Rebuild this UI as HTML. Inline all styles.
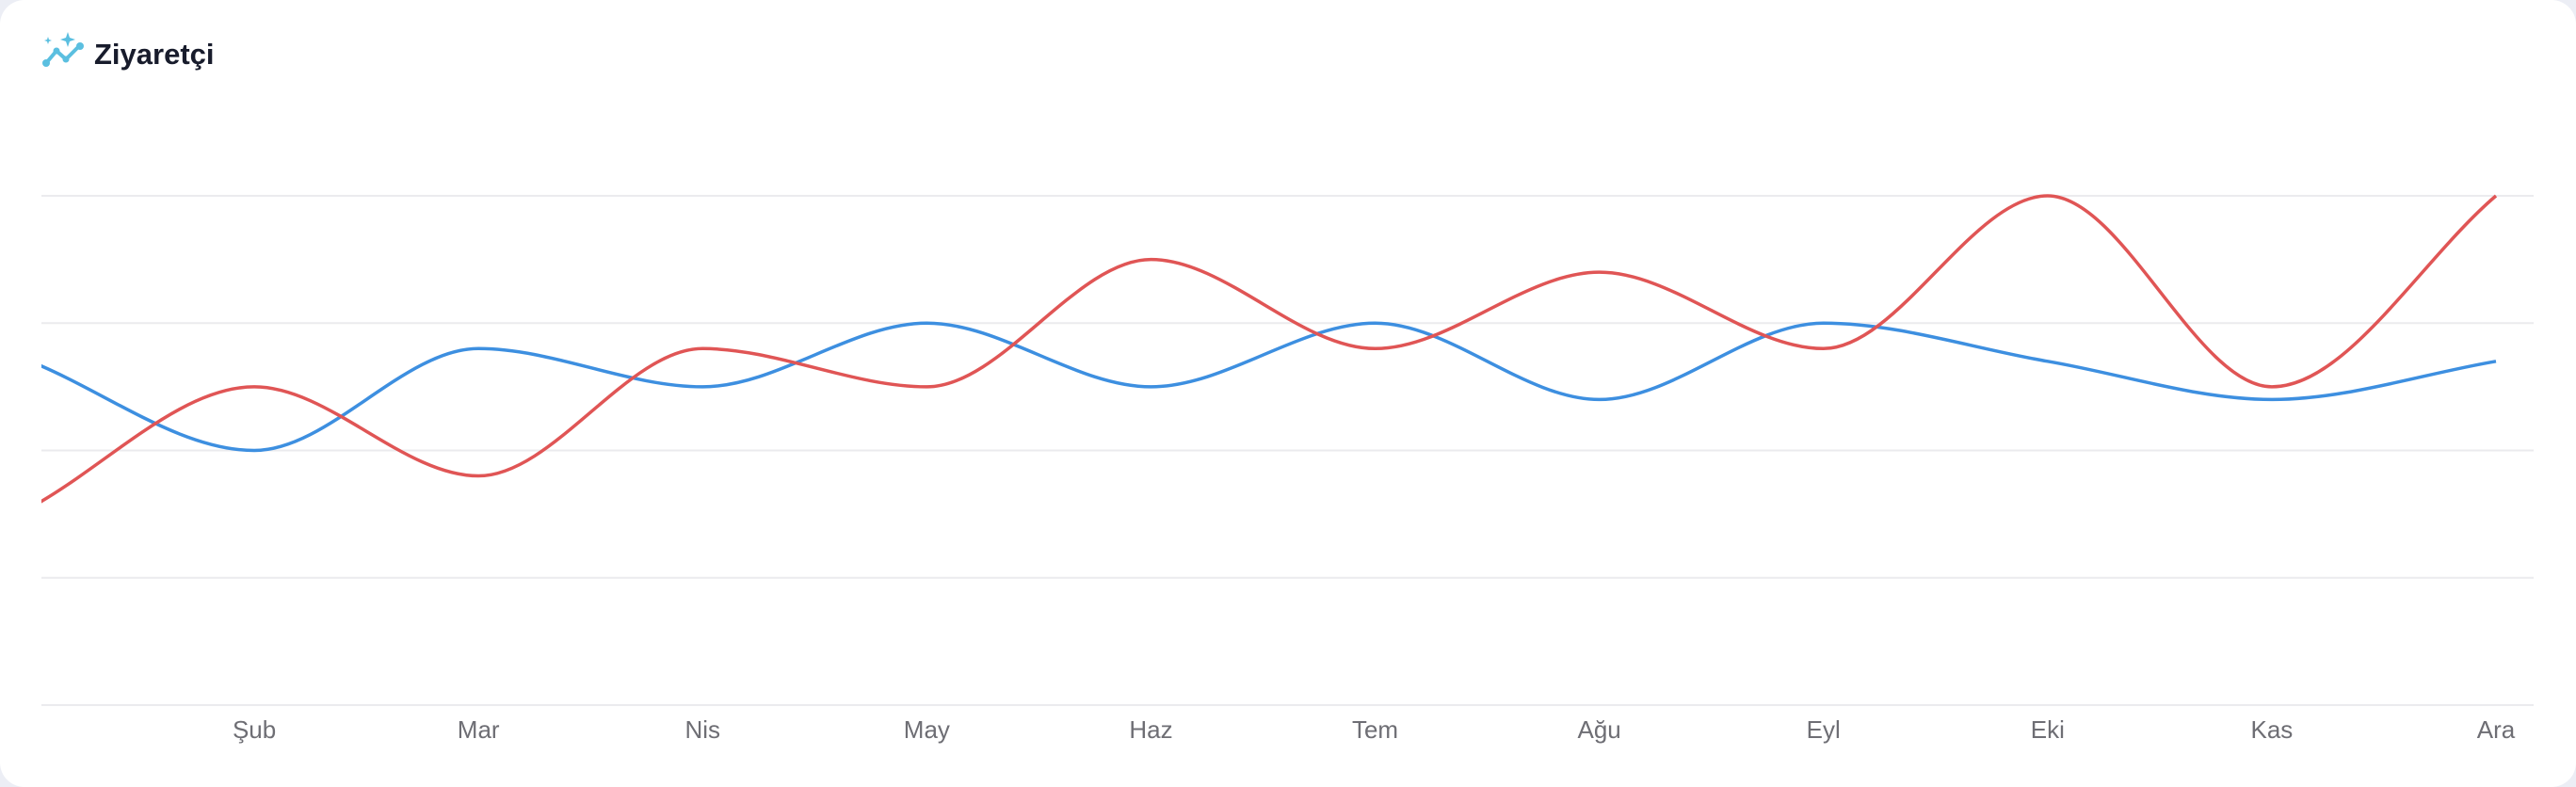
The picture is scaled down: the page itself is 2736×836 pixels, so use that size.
<!DOCTYPE html>
<html><head><meta charset="utf-8"><style>
html,body{margin:0;padding:0;background:#eceef5;}
#card{position:absolute;left:0;top:0;width:2736px;height:836px;background:#fff;border-radius:26px;overflow:hidden;}
#title{position:absolute;left:100px;top:40px;font-family:"Liberation Sans",sans-serif;font-size:31px;font-weight:600;color:#181c2c;}
svg text{font-family:"Liberation Sans",sans-serif;}
</style></head><body>
<div id="card">
<svg style="position:absolute;left:42px;top:32px" width="50" height="44" viewBox="0 0 50 44">
<polyline points="7,35 18,22 28,31 41,18" fill="none" stroke="#5bbfe0" stroke-width="4" stroke-linecap="round" stroke-linejoin="round"/>
<circle cx="7" cy="35" r="4" fill="#5bbfe0"/><circle cx="18" cy="22" r="3.5" fill="#5bbfe0"/><circle cx="28" cy="31" r="3.5" fill="#5bbfe0"/><circle cx="43" cy="17" r="4" fill="#5bbfe0"/>
<path d="M30,2 L32,8 L38,10 L32,12 L30,18 L28,12 L22,10 L28,8Z" fill="#5bbfe0"/>
<path d="M9,7 L10,10 L13,11 L10,12 L9,15 L8,12 L5,11 L8,10Z" fill="#5bbfe0"/>
</svg>
<div id="title">Ziyaretçi</div>
<svg id="chart" width="2736" height="836" style="position:absolute;left:0;top:0">
<defs><clipPath id="plotclip"><rect x="44" y="0" width="2660" height="836"/></clipPath></defs>
</svg>
</div>
<script>
const months = ["Oca","Şub","Mar","Nis","May","Haz","Tem","Ağu","Eyl","Eki","Kas","Ara"];
const blueValues = [27,20,28,25,30,25,30,24,30,27,24,27];
const redValues = [15.5,25,18,28,25,35,28,34,28,40,25,40];
const yTicks = [0,10,20,30,40];
const svg = document.getElementById('chart');
const NS = 'http://www.w3.org/2000/svg';
const X0 = 32, X1 = 2651, Y0 = 749, Y1 = 208, GL = 44, GR = 2691;
function xs(i){ return X0 + (X1 - X0) * i / (months.length - 1); }
function ys(v){ return Y0 - (Y0 - Y1) * v / 40; }
yTicks.forEach(t => {
  const l = document.createElementNS(NS,'line');
  l.setAttribute('x1',GL); l.setAttribute('x2',GR);
  l.setAttribute('y1',ys(t)); l.setAttribute('y2',ys(t));
  l.setAttribute('stroke','#ebebee'); l.setAttribute('stroke-width','2');
  
  
  svg.appendChild(l);
});
months.forEach((m,i) => {
  if (i === 0) return;
  const t = document.createElementNS(NS,'text');
  t.setAttribute('x',xs(i)); t.setAttribute('y',784);
  t.setAttribute('text-anchor','middle'); t.setAttribute('font-size','26');
  t.setAttribute('fill','#6e6e74'); t.textContent = m;
  
  
  svg.appendChild(t);
});
function monotonePath(vals){
  const n = vals.length, px = vals.map((v,i)=>xs(i)), py = vals.map(ys);
  const d = [], m = new Array(n);
  for (let i=0;i<n-1;i++) d.push((py[i+1]-py[i])/(px[i+1]-px[i]));
  for (let i=1;i<n-1;i++) m[i] = (d[i-1]*d[i] <= 0) ? 0 : (d[i-1]+d[i])/2;
  m[0] = d[0]; m[n-1] = d[n-2];
  for (let i=0;i<n-1;i++){
    if (d[i]===0){ m[i]=0; m[i+1]=0; continue; }
    const a=m[i]/d[i], b=m[i+1]/d[i], s=a*a+b*b;
    if (s>9){ const t=3/Math.sqrt(s); m[i]=t*a*d[i]; m[i+1]=t*b*d[i]; }
  }
  let p = 'M'+px[0]+','+py[0];
  for (let i=0;i<n-1;i++){
    const h=(px[i+1]-px[i])/3;
    p += ' C'+(px[i]+h)+','+(py[i]+m[i]*h)+' '+(px[i+1]-h)+','+(py[i+1]-m[i+1]*h)+' '+px[i+1]+','+py[i+1];
  }
  return p;
}
function drawLine(vals,color,name){
  const p = document.createElementNS(NS,'path');
  p.setAttribute('d',monotonePath(vals)); p.setAttribute('fill','none');
  p.setAttribute('stroke',color); p.setAttribute('stroke-width','3.5');
  p.setAttribute('clip-path','url(#plotclip)');
  
  
  svg.appendChild(p);
}
drawLine(blueValues,'#3d8fe0','blue-series-line');
drawLine(redValues,'#e05555','red-series-line');
</script>
</body></html>
